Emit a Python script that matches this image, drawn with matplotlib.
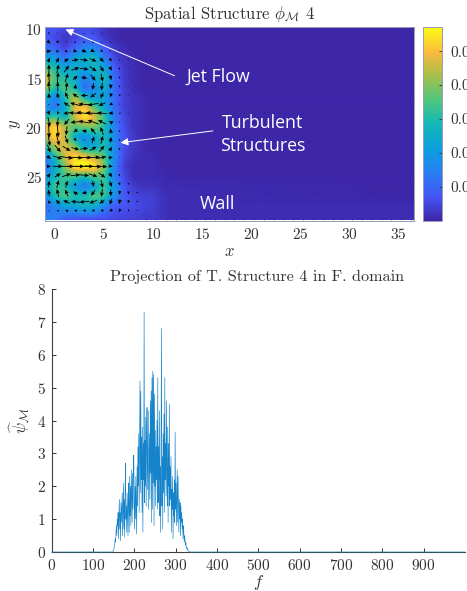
#!/usr/bin/env python3
import numpy as np
import matplotlib
matplotlib.use('Agg')
import matplotlib.pyplot as plt
from matplotlib.colors import LinearSegmentedColormap
from matplotlib.ticker import FormatStrFormatter

plt.rcParams['font.family'] = ['cmr10', 'DejaVu Serif']
plt.rcParams['mathtext.fontset'] = 'cm'
plt.rcParams['axes.formatter.use_mathtext'] = True

# field magnitude, in 1e-3
x_nodes = [-1, 0, 1, 2, 3, 4, 5, 6, 7, 8, 9, 10, 11, 12, 37]
y_nodes = [10, 11, 12, 13, 14, 15, 16, 17, 18, 19, 20, 21, 22, 23, 24, 25, 26, 27, 28, 29.4]
magnitude = [
    [7, 7, 5, 6, 6, 5, 2, 1, 0, 0, 0, 0, 0, 0, 0],
    [8, 5, 2, 4, 8, 7, 3, 1, 0, 0, 0, 0, 0, 0, 0],
    [12, 9, 4, 10, 16, 16, 8, 3, 1, 0, 0, 0, 0, 0, 0],
    [24, 20, 12, 22, 26, 28, 14, 5, 2, 1, 0, 0, 0, 0, 0],
    [36, 30, 22, 26, 22, 28, 24, 8, 3, 1, 0, 0, 0, 0, 0],
    [48, 34, 30, 26, 14, 22, 30, 11, 3, 1, 0, 0, 0, 0, 0],
    [44, 30, 36, 28, 10, 16, 26, 11, 4, 1, 0, 0, 0, 0, 0],
    [26, 14, 30, 46, 26, 22, 22, 11, 4, 2, 1, 0, 0, 0, 0],
    [18, 12, 24, 48, 52, 36, 24, 11, 4, 2, 1, 0, 0, 0, 0],
    [30, 34, 26, 46, 56, 48, 34, 14, 5, 2, 1, 0, 0, 0, 0],
    [48, 54, 44, 36, 38, 40, 30, 15, 6, 2, 1, 0, 0, 0, 0],
    [44, 54, 44, 24, 16, 24, 30, 17, 7, 3, 1, 0, 0, 0, 0],
    [30, 44, 48, 40, 22, 24, 30, 17, 6, 3, 1, 0, 0, 0, 0],
    [14, 30, 46, 54, 50, 44, 36, 17, 5, 2, 1, 1, 0, 0, 0],
    [10, 24, 40, 56, 60, 56, 40, 15, 4, 1, 1, 1, 0, 0, 0],
    [18, 28, 34, 34, 30, 36, 34, 15, 5, 1, 1, 1, 1, 0, 0],
    [24, 34, 30, 20, 12, 22, 34, 20, 7, 3, 2, 2, 1, 1, 0],
    [18, 30, 36, 30, 30, 36, 34, 18, 8, 5, 4, 4, 2, 1, 0],
    [10, 16, 22, 24, 28, 26, 16, 8, 7, 6, 5, 4, 2, 1, 1],
    [16, 14, 8, 6, 5, 5, 5, 5, 4, 4, 3, 3, 2, 1, 1],
]

# arrows, in tenths of an axis unit
arrow_x = [-0.6, 0.3, 1.2, 2.1, 3.0, 3.9, 4.8, 5.7, 6.6, 7.5, 8.4]
arrow_y = [10.4, 11.3, 12.2, 13.1, 14.0, 14.9, 15.8, 16.7, 17.6, 18.5, 19.4,
           20.3, 21.2, 22.1, 23.0, 23.9, 24.8, 25.7, 26.6, 27.5, 28.4]
arrow_u = [
    [1, 1, 1, 1, 1, 1, 1, 0, 0, 0, 0],
    [3, 1, 1, 2, 2, 2, 1, 1, 0, 0, 0],
    [5, 3, 3, 4, 5, 4, 2, 1, 1, 0, 0],
    [2, 3, 5, 7, 8, 7, 4, 2, 1, 1, 0],
    [0, 2, 5, 8, 9, 7, 4, 2, 1, 0, 0],
    [-1, 1, 3, 5, 6, 5, 2, 1, 0, 0, 0],
    [-1, 0, 1, 1, 0, -1, -1, 0, 0, 0, 0],
    [0, -1, -3, -6, -7, -6, -3, -1, -1, 0, 0],
    [1, -2, -6, -11, -12, -11, -7, -3, -1, 0, 0],
    [2, -1, -7, -13, -16, -15, -10, -5, -2, -1, 0],
    [2, -1, -5, -10, -12, -11, -8, -4, -1, 0, 0],
    [1, 1, -1, -4, -5, -5, -3, -1, 0, 0, 0],
    [2, 3, 3, 2, 1, 2, 2, 1, 0, 0, 0],
    [3, 6, 8, 8, 8, 7, 5, 2, 1, 0, 0],
    [4, 9, 13, 15, 15, 14, 9, 4, 1, 0, 0],
    [4, 10, 15, 18, 19, 17, 11, 4, 1, 0, 0],
    [3, 6, 9, 10, 10, 9, 7, 3, 1, 0, 0],
    [1, 2, 2, 1, 0, 1, 2, 2, 1, 0, 0],
    [-1, -2, -3, -5, -5, -4, -1, 0, 0, 0, 0],
    [-2, -4, -7, -9, -10, -8, -5, -2, -1, -1, 0],
    [-1, -2, -3, -3, -3, -3, -3, -3, -2, -1, -1],
]
arrow_v = [
    [2, 1, 0, 1, 1, 1, 1, 0, 0, 0, 0],
    [3, 3, 1, 1, 1, 1, 1, 1, 0, 0, 0],
    [-1, -1, 0, 1, 2, 2, 2, 1, 1, 0, 0],
    [-5, -5, -3, -1, 1, 3, 4, 3, 1, 0, 0],
    [-9, -9, -7, -3, 1, 5, 6, 4, 2, 1, 0],
    [-11, -11, -9, -4, 1, 6, 8, 5, 2, 1, 0],
    [-10, -10, -9, -5, 1, 7, 8, 5, 2, 1, 0],
    [-5, -6, -7, -4, 0, 4, 6, 4, 2, 1, 0],
    [-1, -2, -4, -3, -1, 2, 3, 2, 1, 0, 0],
    [4, 3, 1, -1, -2, -1, -1, 0, 0, 0, 0],
    [10, 9, 6, 1, -2, -4, -4, -2, -1, 0, 0],
    [14, 13, 9, 3, -1, -6, -8, -5, -2, 0, 0],
    [13, 12, 8, 3, -1, -7, -8, -6, -2, -1, 0],
    [8, 7, 5, 2, -1, -4, -6, -4, -2, 0, 0],
    [3, 3, 2, 1, 0, -1, -2, -1, 0, 0, 0],
    [0, 0, 0, 0, 0, 1, 1, 1, 0, 0, 0],
    [-4, -4, -3, -1, 1, 3, 5, 4, 2, 0, 0],
    [-7, -8, -7, -3, 1, 6, 8, 6, 3, 2, 1],
    [-7, -8, -7, -3, 1, 6, 8, 7, 4, 3, 2],
    [-3, -4, -3, -1, 1, 3, 4, 6, 5, 3, 2],
    [-1, -1, -1, 0, 0, 1, 1, 2, 3, 2, 1],
]

# spectrum, one value per unit of f starting at f_start
f_start = 148
psi_band = [
    0, 0.02, 0.05, 0.1, 0.18, 0.25, 0.4, 0.3, 0.6, 0.8,
    0.5, 1.0, 0.8, 1.2, 0.4, 1.1, 1.6, 0.7, 1.2, 0.35,
    1.5, 0.9, 1.4, 1.8, 0.5, 1.2, 2.1, 0.7, 1.6, 0.45,
    1.9, 2.7, 1.0, 1.4, 0.6, 1.8, 1.2, 0.5, 2.1, 1.5,
    0.6, 2.3, 1.1, 2.0, 0.8, 2.5, 1.6, 0.9, 2.4, 1.3,
    2.6, 2.95, 1.5, 0.7, 2.0, 1.0, 2.3, 1.4, 0.55, 2.6,
    1.4, 3.2, 2.0, 3.6, 1.2, 3.3, 5.2, 1.8, 4.9, 2.2,
    3.5, 1.2, 3.8, 0.6, 3.3, 2.2, 7.3, 1.5, 3.4, 2.0,
    4.1, 1.4, 3.6, 4.4, 1.9, 3.0, 4.3, 1.3, 2.6, 3.6,
    1.6, 4.6, 2.4, 4.9, 0.9, 5.3, 1.3, 5.5, 2.1, 5.4,
    0.8, 4.8, 2.0, 3.7, 1.4, 3.2, 2.2, 4.0, 1.3, 5.3,
    1.5, 3.2, 2.2, 4.3, 1.1, 2.6, 0.6, 3.7, 6.8, 1.4,
    2.9, 0.7, 3.6, 1.8, 4.2, 1.2, 5.3, 2.2, 3.3, 1.7,
    4.6, 2.4, 1.4, 3.8, 0.9, 3.3, 2.0, 4.5, 1.4, 2.6,
    1.6, 2.9, 0.6, 1.9, 1.3, 2.3, 0.4, 1.8, 1.1, 2.2,
    0.9, 3.65, 1.3, 2.1, 0.8, 1.6, 2.5, 0.9, 2.3, 1.4,
    0.6, 1.6, 1.0, 1.5, 0.5, 1.4, 0.9, 1.2, 0.7, 1.0,
    0.4, 0.8, 0.6, 0.3, 0.5, 0.35, 0.2, 0.3, 0.12, 0.15,
    0.08, 0.1, 0.05, 0.03, 0.02, 0.01,
]

x_ticks = [0, 5, 10, 15, 20, 25, 30, 35]
y_ticks = [10, 15, 20, 25]
cbar_ticks = [0.01, 0.02, 0.03, 0.04, 0.05]
f_ticks = [0, 100, 200, 300, 400, 500, 600, 700, 800, 900]
psi_ticks = [0, 1, 2, 3, 4, 5, 6, 7, 8]

parula = LinearSegmentedColormap.from_list('parula_like', [
    (0.00, (0.24, 0.15, 0.66)), (0.12, (0.27, 0.33, 0.96)),
    (0.25, (0.16, 0.50, 0.95)), (0.37, (0.05, 0.62, 0.87)),
    (0.50, (0.07, 0.72, 0.72)), (0.62, (0.30, 0.78, 0.50)),
    (0.75, (0.65, 0.75, 0.30)), (0.87, (0.98, 0.73, 0.24)),
    (1.00, (0.98, 0.98, 0.08))])

W, H = 467, 591
fig = plt.figure(figsize=(W / 100, H / 100), dpi=100)


def box(left, top, right, bottom):
    return [left / W, 1 - bottom / H, (right - left) / W, (bottom - top) / H]


def smooth_field(values):
    # resample the table on a fine even grid and soften it, the picture is a smooth field
    xi = np.arange(-1, 36.61, 0.1)
    yi = np.arange(9.8, 29.41, 0.1)
    tab = np.array(values, dtype=float) / 1000
    rows = np.array([np.interp(xi, x_nodes, r) for r in tab])
    grid = np.array([np.interp(yi, y_nodes, c) for c in rows.T]).T
    win = np.hanning(9)
    win = win / win.sum()
    pad = np.pad(grid, 4, mode='edge')
    pad = np.apply_along_axis(lambda r: np.convolve(r, win, mode='same'), 0, pad)
    pad = np.apply_along_axis(lambda r: np.convolve(r, win, mode='same'), 1, pad)
    return pad[4:-4, 4:-4]


text_color = '#333333'

# top panel
ax = fig.add_axes(box(45, 27.5, 414, 220.5))
mesh = ax.imshow(smooth_field(magnitude), extent=[-1, 36.6, 29.4, 9.8], aspect='auto',
                 cmap=parula, vmin=0, vmax=0.057, interpolation='bilinear')
dot_x, dot_y = np.meshgrid(np.arange(9.3, 36.5, 1.0), np.arange(10.4, 29.4, 0.9))
ax.scatter(dot_x, dot_y, s=0.25, c='black', alpha=0.3, linewidths=0)
ax_x, ax_y = np.meshgrid(arrow_x, arrow_y)
ax.quiver(ax_x, ax_y, np.array(arrow_u) / 10, np.array(arrow_v) / 10, angles='xy',
          scale_units='xy', scale=1, color='black', width=0.0024, headwidth=4.5,
          headlength=5, headaxislength=4.5, pivot='mid', minlength=0.4)
ax.set_xlim(-1, 36.6)
ax.set_ylim(29.4, 9.8)
ax.set_xticks(x_ticks)
ax.set_yticks(y_ticks)
ax.tick_params(axis='x', length=0, labelsize=11, colors=text_color, pad=5)
ax.tick_params(axis='y', length=0, labelsize=11, colors=text_color, pad=2)
for s in ax.spines.values():
    s.set_color('#9a9ab8')
    s.set_linewidth(0.7)
ax.set_xlabel('$x$', fontsize=12, color=text_color, labelpad=1)
ax.set_ylabel('$y$', fontsize=12, color=text_color, labelpad=2)
ax.set_title(r'Spatial Structure $\phi_{\mathcal{M}}$ 4', fontsize=12, color=text_color, pad=6)

arrow_style = dict(arrowstyle='-|>,head_width=0.22,head_length=0.45', color='white', lw=0.7,
                   shrinkA=0, shrinkB=0)
ax.annotate('', xy=(1.1, 10.0), xytext=(12.2, 14.7), arrowprops=arrow_style)
ax.annotate('', xy=(6.7, 21.5), xytext=(16.1, 20.3), arrowprops=arrow_style)
label_font = dict(family='Open Sans', color='white', fontsize=12.8, ha='center', va='center')
ax.text(16.7, 14.8, 'Jet Flow', **label_font)
ax.text(21.2, 20.7, 'Turbulent\nStructures', linespacing=1.35, **label_font)
ax.text(16.6, 27.7, 'Wall', **label_font)

cax = fig.add_axes(box(423, 27.5, 442, 220.5))
cb = fig.colorbar(mesh, cax=cax)
cb.set_ticks(cbar_ticks)
cb.ax.tick_params(direction='in', length=2, width=0.6, labelsize=11, colors=text_color, pad=6)
cb.ax.yaxis.set_major_formatter(FormatStrFormatter('%.2f'))
cb.outline.set_edgecolor('#9a9ab8')
cb.outline.set_linewidth(0.7)

# bottom panel
psi = np.zeros(1000)
psi[f_start:f_start + len(psi_band)] = psi_band
ax2 = fig.add_axes(box(51.5, 289, 465, 552))
ax2.plot(np.arange(1000), psi, color='#1583ca', lw=0.45, clip_on=False, zorder=5)
ax2.set_xlim(0, 1000)
ax2.set_ylim(0, 8)
ax2.set_xticks(f_ticks)
ax2.set_yticks(psi_ticks)
ax2.spines['top'].set_visible(False)
ax2.spines['right'].set_visible(False)
ax2.spines['left'].set_color('#404040')
ax2.spines['bottom'].set_color('#404040')
ax2.tick_params(direction='in', length=3, width=0.7, labelsize=11, colors=text_color, pad=4)
ax2.set_xlabel('$f$', fontsize=12, color=text_color, labelpad=0)
ax2.set_ylabel(r'$\widehat{\psi}_{\mathcal{M}}$', fontsize=12, color=text_color, labelpad=3)
ax2.set_title('Projection of T. Structure 4 in F. domain', fontsize=11.7, color=text_color,
              pad=6, x=0.497)

fig.savefig('out.png', dpi=100)
